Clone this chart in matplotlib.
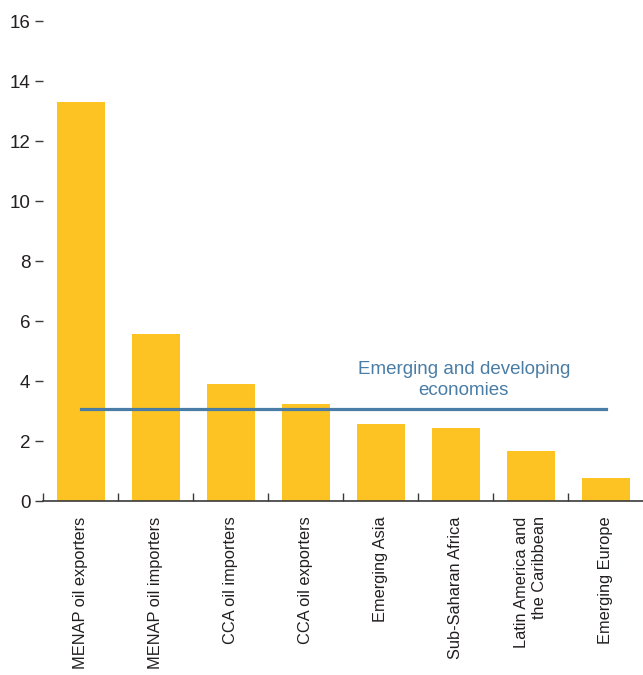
import matplotlib
matplotlib.use("Agg")
import matplotlib.pyplot as plt
import numpy as np
from matplotlib.ticker import FixedLocator

plt.rcParams["font.family"] = ["Liberation Sans", "DejaVu Sans"]

categories = [
    "MENAP oil exporters",
    "MENAP oil importers",
    "CCA oil importers",
    "CCA oil exporters",
    "Emerging Asia",
    "Sub-Saharan Africa",
    "Latin America and\nthe Caribbean",
    "Emerging Europe",
]
values = [13.3, 5.57, 3.9, 3.23, 2.57, 2.43, 1.67, 0.77]
edde_average = 3.07
edde_label = "Emerging and developing\neconomies"
y_ticks = [0, 2, 4, 6, 8, 10, 12, 14, 16]

BAR_COLOR = "#FDC323"
LINE_COLOR = "#4A7DA6"
TEXT_COLOR = "#231F20"

fig = plt.figure(figsize=(6.43, 6.75), dpi=100)
ax = fig.add_axes([43 / 643, 174 / 675, 600 / 643, 480 / 675])

x = np.arange(len(categories))
ax.bar(x, values, width=0.64, color=BAR_COLOR, zorder=2)
ax.plot([x[0], x[-1]], [edde_average] * 2, color=LINE_COLOR, lw=2.3, zorder=3)
ax.text(5.11, 4.03, edde_label, color=LINE_COLOR, fontsize=13.5,
        ha="center", va="center", linespacing=1.35)

ax.set_xlim(-0.5, 7.5)
ax.set_ylim(0, 16)

for side in ["top", "right", "left"]:
    ax.spines[side].set_visible(False)
ax.spines["bottom"].set_color("#3a3a3a")
ax.spines["bottom"].set_linewidth(1.2)

ax.set_yticks(y_ticks)
ax.set_yticklabels([str(v) for v in y_ticks])
ax.tick_params(axis="y", direction="out", length=6, width=1.0, color="#3a3a3a",
               labelsize=13.5, labelcolor=TEXT_COLOR, pad=3)

ax.set_xticks(x)
ax.set_xticklabels(categories, rotation=90, ha="center", va="top",
                   multialignment="right")
ax.tick_params(axis="x", which="major", length=0, labelsize=11.8,
               labelcolor=TEXT_COLOR, pad=11)
ax.xaxis.set_minor_locator(FixedLocator(np.arange(-0.5, 7.0, 1.0)))
ax.tick_params(axis="x", which="minor", direction="in", length=6, width=1.0,
               color="#3a3a3a")

fig.savefig("out.png", dpi=100)
